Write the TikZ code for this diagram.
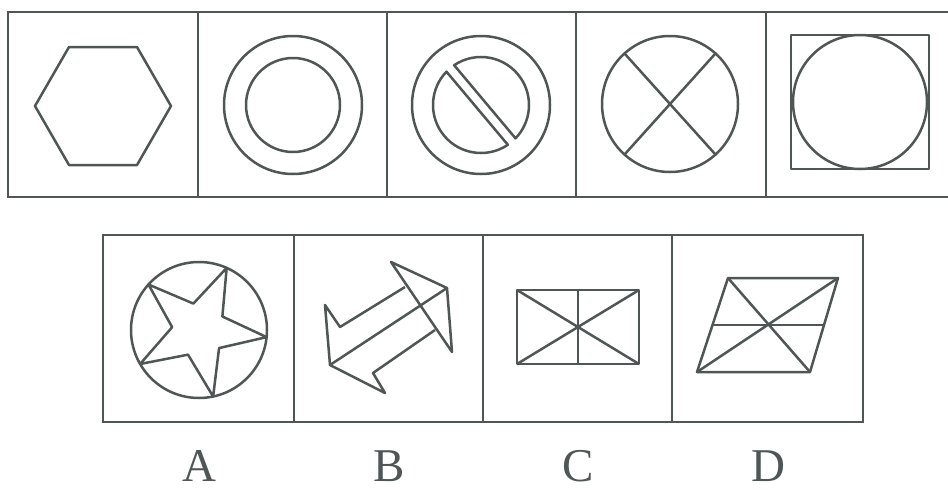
\documentclass[tikz,border=0pt]{standalone}
\usepackage{fontspec}
\setmainfont{Liberation Serif}
\definecolor{ink}{RGB}{80,86,86}
\tikzset{
  frame/.style={draw=ink, line width=2.9pt},
  figline/.style={draw=ink, line width=2.5pt, line join=round},
  letter/.style={anchor=base, inner sep=0pt, text=ink, font=\fontsize{47}{47}\selectfont}
}
\begin{document}
\begin{tikzpicture}[x=1pt,y=-1pt]
\useasboundingbox (0,0) rectangle (948,490);
% top row frame
\draw[frame] (8,12) rectangle (958,197);
\foreach \xx in {198,387,576,766} \draw[frame] (\xx,12) -- (\xx,197);
% cell 1: hexagon
\draw[figline] (171,106) -- (137,165) -- (69,165) -- (35,106) -- (69,47) -- (137,47) -- cycle;
% cell 2: two concentric circles
\draw[figline] (293,105) circle[radius=69];
\draw[figline] (293,105) circle[radius=47];
% cell 3: circle with split inner disk
\draw[figline] (481,105) circle[radius=69];
\draw[figline] ([shift={(481,105)}]-124:48) arc[start angle=-124, end angle=44, radius=48] -- cycle;
\draw[figline] ([shift={(481,105)}]56:48) arc[start angle=56, end angle=224, radius=48] -- cycle;
% cell 4: circle with X
\coordinate (xc) at (670,104);
\draw[figline] (xc) circle[radius=68];
\draw[figline] ([shift={(xc)}]-132:68) -- ([shift={(xc)}]48:68);
\draw[figline] ([shift={(xc)}]-48:68) -- ([shift={(xc)}]132:68);
% cell 5: square with circle
\draw[figline] (791,35) rectangle (929,169);
\draw[figline] (860,102) circle[radius=67];
% bottom row frame
\draw[frame] (103,235) rectangle (863,422);
\foreach \xx in {294,483,672} \draw[frame] (\xx,235) -- (\xx,422);
% A: star in circle
\coordinate (ac) at (199,330);
\draw[figline] (ac) circle[radius=68];
\draw[figline] ([shift={(ac)}]-138:68)
  \foreach \k in {0,...,4} {
    -- ([shift={(ac)}]{-102+72*\k}:27) -- ([shift={(ac)}]{-66+72*\k}:68)
  } -- cycle;
% B: double arrow
\draw[figline] (405,287) -- (340,327) -- (325,305) -- (330,365) -- (385,393) -- (373,373) -- (435,330);
\draw[figline] (391,262) -- (447,288) -- (452,352) -- cycle;
\draw[figline] (330,365) -- (447,288);
% C: rectangle with diagonals
\draw[figline] (517,290) rectangle (639,364);
\draw[figline] (517,290) -- (639,364);
\draw[figline] (639,290) -- (517,364);
\draw[figline] (578,290) -- (578,364);
% D: parallelogram
\draw[figline] (728,278) -- (838,278) -- (810,372) -- (697,372) -- cycle;
\draw[figline] (728,278) -- (810,372);
\draw[figline] (838,278) -- (697,372);
\draw[figline] (712.5,325) -- (824,325);
% labels
\node[letter] (la) at (199,481) {A};
\node[letter] (lb) at (389,481) {B};
\node[letter] (lc) at (578,481) {C};
\node[letter] (ld) at (768,481) {D};
\end{tikzpicture}
\end{document}
